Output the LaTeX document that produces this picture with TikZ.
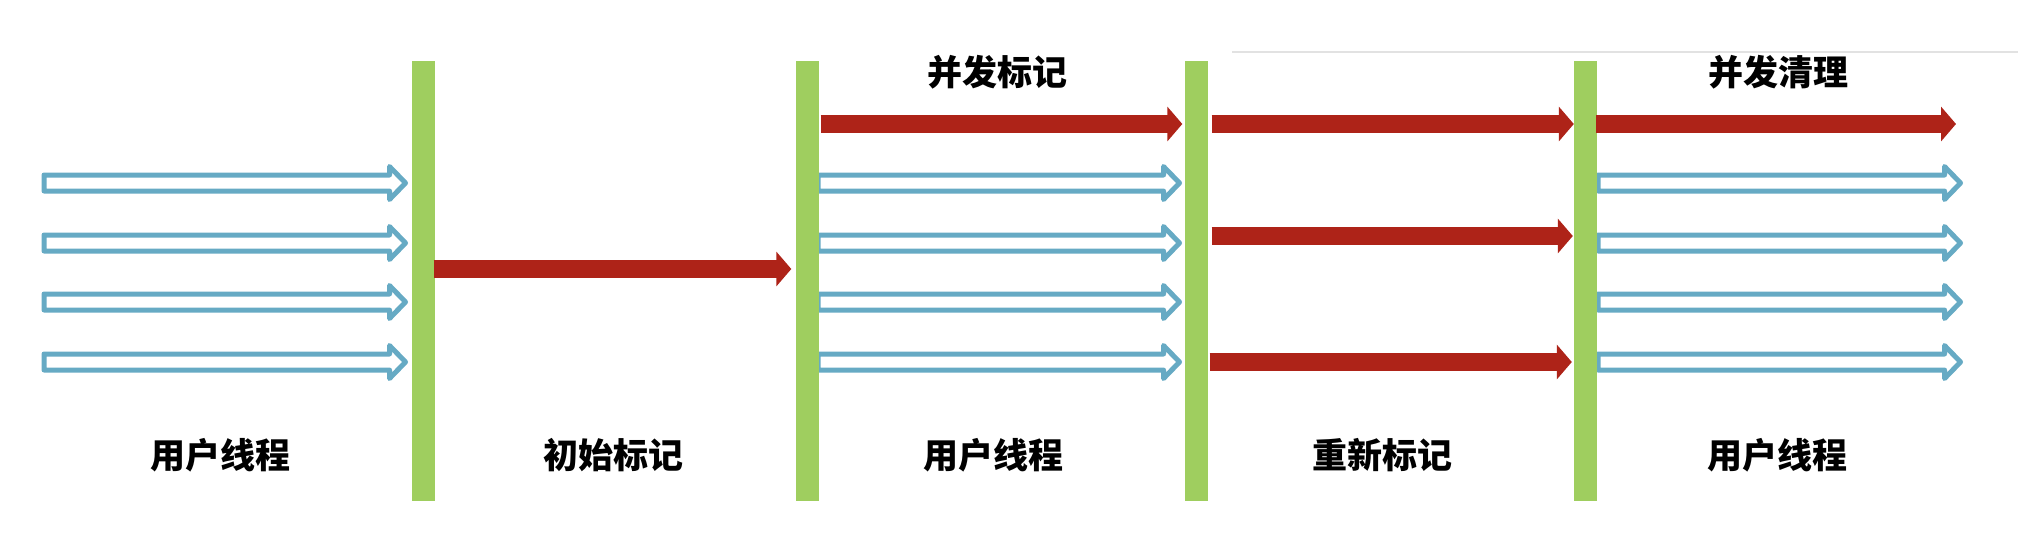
\documentclass[tikz,border=0pt]{standalone}
\usepackage{fontspec}
\setmainfont{Noto Sans CJK SC}
\usetikzlibrary{arrows.meta}
\definecolor{barg}{HTML}{9FCE5F}
\definecolor{redd}{HTML}{AE2318}
\definecolor{blu}{HTML}{66AAC4}
\definecolor{lgray}{HTML}{E2E2E2}
\tikzset{
  bar/.style={fill=barg, draw=none, minimum width=23pt, minimum height=440pt, inner sep=0pt, anchor=north},
  redarrow/.style={draw=redd, line width=18pt, -{Triangle[length=15pt,width=34pt]}},
  bluearrow/.style={draw=blu, line width=5pt, fill=white, line join=round},
  lab/.style={font=\bfseries\fontsize{35}{40}\selectfont, inner sep=0pt, text=black},
  thinline/.style={draw=lgray, line width=1.5pt}
}
\newcommand\hollowarr[3]{%
  \draw[bluearrow] (#1,{#3-8}) -- ({#2-16},{#3-8}) -- ({#2-16},{#3-16.5}) -- (#2,#3)
    -- ({#2-16},{#3+16.5}) -- ({#2-16},{#3+8}) -- (#1,{#3+8}) -- cycle;}
\begin{document}
\begin{tikzpicture}[x=1pt,y=-1pt]
\useasboundingbox (0,0) rectangle (2018,542);
\fill[white] (0,0) rectangle (2018,542);
% faint line at top right
\coordinate (g1) at (1232,52);
\coordinate (g2) at (2018,52);
\draw[thinline] (g1) -- (g2);
% hollow blue arrows (user threads)
\foreach \yy in {183,243,302,362} {
  \hollowarr{44}{405.5}{\yy}
  \hollowarr{818}{1179.5}{\yy}
}
\foreach \yy in {183,243,302,362} {
  \hollowarr{1598}{1960.5}{\yy}
}
% green bars
\node[bar] (b1) at (423,61) {};
\node[bar] (b2) at (807,61) {};
\node[bar] (b3) at (1196,61) {};
\node[bar] (b4) at (1585.5,61) {};
% red arrows (GC threads)
\draw[redarrow] ([xshift=-1pt]b1.east |- 0,269) -- ([xshift=-4pt]b2.west |- 0,269);
\draw[redarrow] ([xshift=2pt]b2.east |- 0,124) -- ([xshift=-2pt]b3.west |- 0,124);
\draw[redarrow] ([xshift=4pt]b3.east |- 0,124) -- (b4.west |- 0,124);
\draw[redarrow] ([xshift=4pt]b3.east |- 0,236) -- ([xshift=-1pt]b4.west |- 0,236);
\draw[redarrow] ([xshift=2pt]b3.east |- 0,362) -- ([xshift=-2pt]b4.west |- 0,362);
\draw[redarrow] ([xshift=-1pt]b4.east |- 0,124) -- (1956,124) coordinate (rend);
% labels
\node[lab] (t1) at (997,72) {并发标记};
\node[lab] (t2) at (1778,72) {并发清理};
\node[lab] (l1) at (220,455) {用户线程};
\node[lab] (l2) at (613,455) {初始标记};
\node[lab] (l3) at (993,455) {用户线程};
\node[lab] (l4) at (1382,455) {重新标记};
\node[lab] (l5) at (1777,455) {用户线程};
\end{tikzpicture}
\end{document}
